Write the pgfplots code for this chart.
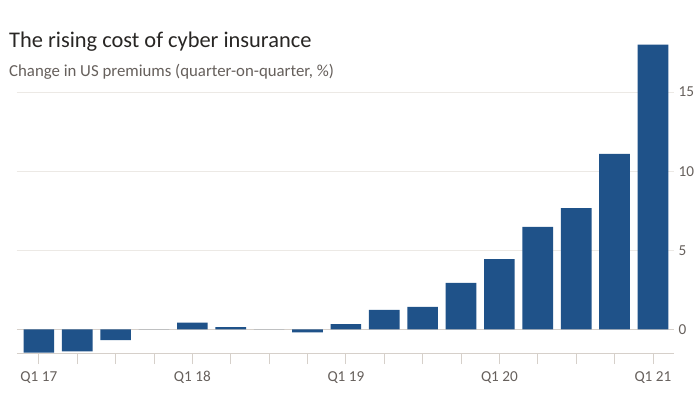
\documentclass[border=0pt]{standalone}
\usepackage{pgfplots}
\pgfplotsset{compat=1.18}
\usepackage{fontspec}
\setmainfont{Carlito}
\definecolor{barblue}{RGB}{31,82,137}
\definecolor{titlec}{RGB}{40,38,36}
\definecolor{subc}{RGB}{102,96,92}
\definecolor{gridc}{RGB}{236,233,229}
\definecolor{zeroc}{RGB}{214,208,202}
\begin{document}
\begin{tikzpicture}[x=1pt,y=1pt]
\useasboundingbox (0,0) rectangle (700,394);
\fill[white] (0,0) rectangle (700,394);
\node[anchor=base west, inner sep=0, text=titlec, font=\fontsize{22.4}{26}\selectfont] at (9,346) {The rising cost of cyber insurance};
\node[anchor=base west, inner sep=0, text=subc, font=\fontsize{16.8}{19}\selectfont] at (9,317) {Change in US premiums (quarter-on-quarter, \%)};
\begin{axis}[
  at={(17pt,41pt)}, anchor=south west,
  scale only axis, width=657pt, height=308.3pt,
  xmin=-0.57, xmax=16.55, ymin=-1.5, ymax=18,
  ybar, bar width=0.8,
  axis x line*=bottom, axis y line*=right,
  x axis line style={-, draw=zeroc, line width=0.8pt},
  y axis line style={draw=none},
  major tick length=11pt,
  xtick={0,...,16},
  xticklabels={Q1 17,,,,Q1 18,,,,Q1 19,,,,Q1 20,,,,Q1 21},
  x tick style={draw=zeroc, line width=0.8pt},
  xtick align=outside,
  x tick label style={font=\fontsize{15.2}{17}\selectfont, text=subc, yshift=-4pt},
  ytick={5,10,15},
  extra y ticks={0},
  extra y tick style={grid style={draw=zeroc, line width=0.8pt}},
  yticklabel pos=right,
  y tick style={draw=none},
  ytick align=inside,
  y tick label style={font=\fontsize{15.2}{17}\selectfont, text=subc, xshift=1pt},
  ymajorgrids,
  grid style={draw=gridc, line width=0.8pt},
  /pgf/number format/assume math mode=true,
]
\addplot[fill=barblue, draw=none] coordinates {
(0,-1.48) (1,-1.39) (2,-0.68) (3,0) (4,0.42) (5,0.13) (6,0) (7,-0.19)
(8,0.33) (9,1.22) (10,1.41) (11,2.93) (12,4.43) (13,6.47) (14,7.67)
(15,11.1) (16,18.0)
};
\end{axis}
\end{tikzpicture}
\end{document}
